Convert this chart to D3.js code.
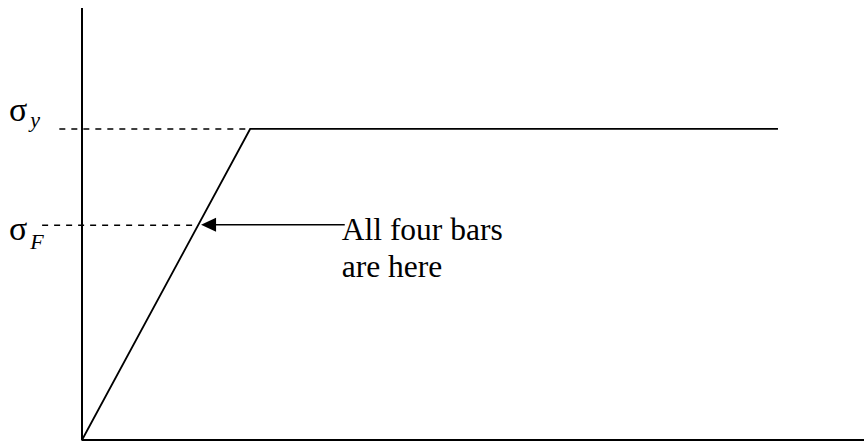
<!DOCTYPE html>
<html>
<head>
<meta charset="utf-8">
<script src="https://cdn.jsdelivr.net/npm/d3@7"></script>
<style>
  body { margin: 0; background: #fff; }
  svg { display: block; }
</style>
</head>
<body>
<svg id="chart" width="864" height="442"></svg>
<script>
// stress-strain curve (elastic-perfectly plastic), in relative units
const strain = [0, 21.5, 89];
const stress = [0, 72, 72];

// reference stress levels
const levels = [
  { name: "y", value: 72, from: -2.9 },
  { name: "F", value: 49.7, from: -5.1 }
];

// arrow pointing at the curve at sigma_F
const arrowTail = 33.6;
const noteLines = ["All four bars", "are here"];

const serif = '"Liberation Serif", "Times New Roman", serif';

const svg = d3.select("#chart");

const x = d3.scaleLinear().domain([0, 100]).range([82, 864]);
const y = d3.scaleLinear().domain([0, 100]).range([440, 8]);

// axes as plain lines, no ticks
svg.append("line")
  .attr("x1", x(0)).attr("x2", x(0))
  .attr("y1", y(0) + 0.5).attr("y2", y(100))
  .attr("stroke", "#000").attr("stroke-width", 2);

svg.append("line")
  .attr("x1", x(0)).attr("x2", x(100))
  .attr("y1", y(0)).attr("y2", y(0))
  .attr("stroke", "#000").attr("stroke-width", 2);

// dashed reference lines up to the curve
const yieldStrain = strain[1];
const yieldStress = stress[1];
const curveAt = s => Math.min(s / yieldStress, 1) * yieldStrain;

svg.selectAll(".level")
  .data(levels)
  .enter()
  .append("line")
  .attr("class", "level")
  .attr("x1", d => x(d.from))
  .attr("x2", d => x(curveAt(d.value)))
  .attr("y1", d => y(d.value))
  .attr("y2", d => y(d.value))
  .attr("stroke", "#000")
  .attr("stroke-width", 1.6)
  .attr("stroke-dasharray", "6,6");

// the curve
const line = d3.line().x(d => x(d[0])).y(d => y(d[1]));
svg.append("path")
  .datum(d3.zip(strain, stress))
  .attr("d", line)
  .attr("fill", "none")
  .attr("stroke", "#000")
  .attr("stroke-width", 1.8);

// sigma labels
levels.forEach(d => {
  const g = svg.append("text")
    .attr("x", 9)
    .attr("y", d.name === "y" ? y(d.value) - 8 : y(d.value) + 15)
    .style("font-family", serif)
    .style("font-size", "34px");
  g.append("tspan").text("σ");
  g.append("tspan")
    .attr("dx", 3)
    .attr("dy", d.name === "y" ? 6 : 9)
    .style("font-size", "22px")
    .style("font-style", "italic")
    .text(d.name);
});

// arrow
const sigmaF = levels[1].value;
const tipX = x(curveAt(sigmaF)) + 3;
const arrowY = y(sigmaF) - 0.5;

svg.append("line")
  .attr("x1", x(arrowTail)).attr("x2", tipX + 12)
  .attr("y1", arrowY).attr("y2", arrowY)
  .attr("stroke", "#000").attr("stroke-width", 1.6);

svg.append("path")
  .attr("d", `M${tipX},${arrowY} L${tipX + 15},${arrowY - 7} L${tipX + 15},${arrowY + 7} Z`)
  .attr("fill", "#000");

// note text
svg.append("text")
  .attr("x", x(arrowTail) - 3)
  .attr("y", 240)
  .style("font-family", serif)
  .style("font-size", "31.5px")
  .selectAll("tspan")
  .data(noteLines)
  .enter()
  .append("tspan")
  .attr("x", x(arrowTail) - 3)
  .attr("dy", (d, i) => (i === 0 ? 0 : 37))
  .text(d => d);
</script>
</body>
</html>
